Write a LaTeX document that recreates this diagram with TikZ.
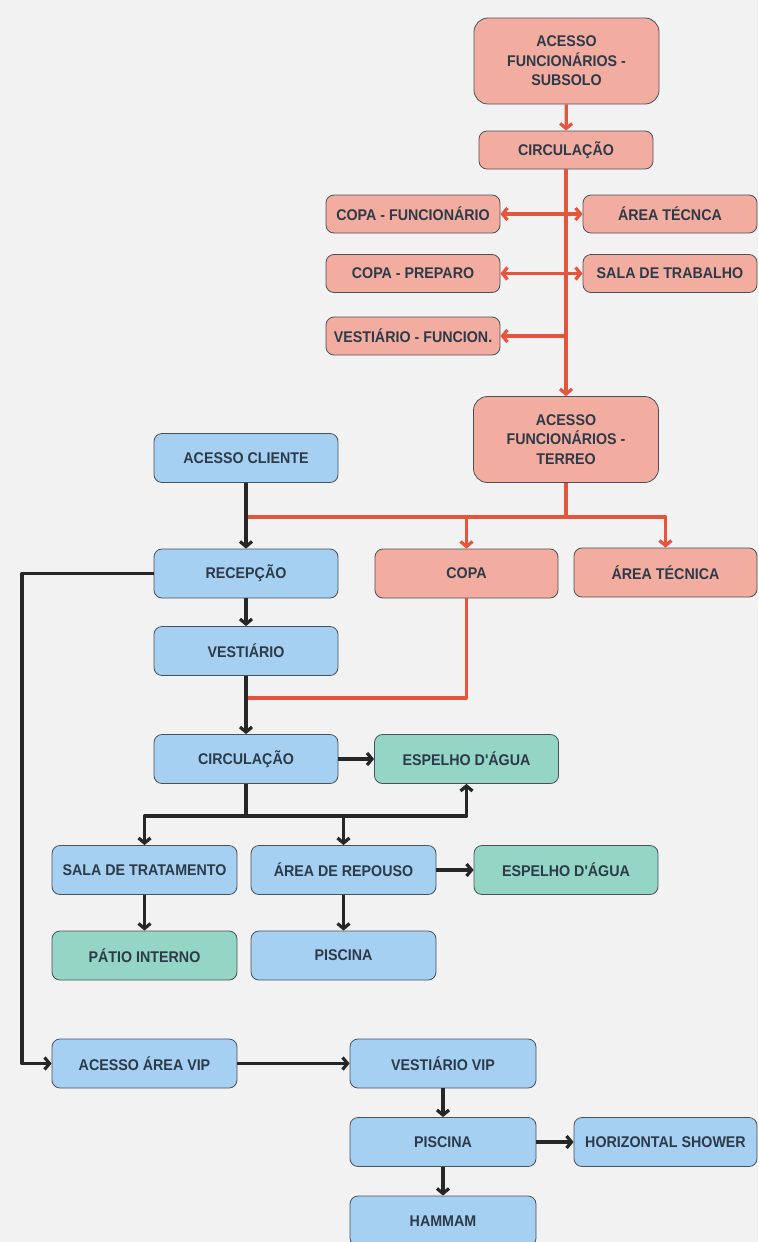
\documentclass[tikz,border=0pt]{standalone}
\usepackage{fontspec}
\setmainfont{Liberation Sans}[FakeStretch=0.92, Ligatures=TeXOff]
\usetikzlibrary{arrows.meta,calc}

\definecolor{bgcol}{HTML}{F2F2F2}
\definecolor{funcfill}{HTML}{F3ADA0}
\definecolor{clifill}{HTML}{A5D0F2}
\definecolor{aguafill}{HTML}{95D5C5}
\definecolor{boxline}{HTML}{4A5058}
\definecolor{txtcol}{HTML}{2D3A48}
\definecolor{funcline}{HTML}{E6553B}

\tikzset{
    room/.style = {draw=boxline, line width=0.8pt, rounded corners=8pt, inner sep=0pt,
                   align=center, text=txtcol, font=\fontsize{15.5}{19.5}\selectfont\bfseries},
    func/.style = {room, fill=funcfill, minimum width=174pt, minimum height=38pt},
    funcbig/.style = {room, fill=funcfill, rounded corners=14pt, minimum width=185pt, minimum height=86pt},
    cli/.style = {room, fill=clifill, minimum width=184pt, minimum height=49pt},
    agua/.style = {room, fill=aguafill, minimum width=184pt, minimum height=49pt},
    orangeflow/.style = {draw=funcline, line width=3.2pt, line join=round},
    blackflow/.style = {draw=black!85, line width=3.2pt, line join=round},
}

\begin{document}
\begin{tikzpicture}[x=1pt, y=-1pt, >={Straight Barb[length=5pt,width=12pt]}]

    \useasboundingbox[fill=bgcol] (0,0) rectangle (758,1242);

    % funcionarios - subsolo
    \node[funcbig] (subsolo) at (566.5,61) {ACESSO\\FUNCIONÁRIOS -\\SUBSOLO};
    \node[func] (circsub) at (566,150) {CIRCULAÇÃO};
    \node[func] (copafunc) at (413,214) {COPA - FUNCIONÁRIO};
    \node[func] (tecsub) at (670,214) {ÁREA TÉCNCA};
    \node[func] (copaprep) at (413,273.5) {COPA - PREPARO};
    \node[func] (trabalho) at (670,273.5) {SALA DE TRABALHO};
    \node[func] (vestfunc) at (413,336) {VESTIÁRIO - FUNCION.};

    % funcionarios - terreo
    \node[funcbig] (terreo) at (566,439.5) {ACESSO\\FUNCIONÁRIOS -\\TERREO};
    \node[func, minimum width=183pt, minimum height=49pt] (copa) at (466.5,573.5) {COPA};
    \node[func, minimum width=183pt, minimum height=49pt] (tecter) at (665.5,572.5) {ÁREA TÉCNICA};

    % clientes
    \node[cli] (acesso) at (246,458) {ACESSO CLIENTE};
    \node[cli] (recepcao) at (246,573.5) {RECEPÇÃO};
    \node[cli] (vestiario) at (246,651) {VESTIÁRIO};
    \node[cli] (circcli) at (246,759) {CIRCULAÇÃO};
    \node[agua] (espelhoa) at (466.5,759) {ESPELHO D'ÁGUA};
    \node[cli, minimum width=185pt] (tratamento) at (144.5,870) {SALA DE TRATAMENTO};
    \node[cli, minimum width=185pt] (repouso) at (343.5,870) {ÁREA DE REPOUSO};
    \node[agua] (espelhob) at (566,870) {ESPELHO D'ÁGUA};
    \node[agua, minimum width=185pt] (patio) at (144.5,955.5) {PÁTIO INTERNO};
    \node[cli, minimum width=185pt] (piscina) at (343.5,955.5) {PISCINA};

    % area vip
    \node[cli, minimum width=185pt] (acessovip) at (144.5,1063.5) {ACESSO ÁREA VIP};
    \node[cli, minimum width=186pt] (vestvip) at (443,1063.5) {VESTIÁRIO VIP};
    \node[cli, minimum width=186pt] (piscinavip) at (443,1142) {PISCINA};
    \node[cli, minimum width=183pt] (shower) at (665.5,1142) {HORIZONTAL SHOWER};
    \node[cli, minimum width=186pt, minimum height=50pt] (hammam) at (443,1221) {HAMMAM};

    % orange connectors
    \draw[orangeflow, ->] (subsolo) -- (circsub);
    \draw[orangeflow, ->] (circsub) -- (terreo);
    \draw[orangeflow, <->] (copafunc) -- (tecsub);
    \draw[orangeflow, <->] (copaprep) -- (trabalho);
    \draw[orangeflow, ->] (circsub.south |- vestfunc.east) -- (vestfunc);

    \coordinate (jter) at ($(terreo.south)+(0,34)$);
    \draw[orangeflow] (terreo) -- (jter) -- (acesso.south |- jter);
    \draw[orangeflow, ->] (jter) -| (copa.north);
    \draw[orangeflow, ->] (jter) -| (tecter.north);
    \draw[orangeflow] (copa) |- ($(vestiario.south)+(0,22)$);

    % black connectors
    \draw[blackflow, ->] (acesso) -- (recepcao);
    \draw[blackflow, ->] (recepcao) -- (vestiario);
    \draw[blackflow, ->] (vestiario) -- (circcli);
    \draw[blackflow, ->] (recepcao.west) -- (22,573.5) |- (acessovip.west);
    \draw[blackflow, ->] (circcli) -- (espelhoa);

    \coordinate (jcli) at ($(circcli.south)+(0,32)$);
    \draw[blackflow] (circcli) -- (jcli);
    \draw[blackflow, ->] (jcli) -| (tratamento.north);
    \draw[blackflow, ->] (jcli) -| (repouso.north);
    \draw[blackflow, ->] (jcli) -| (espelhoa.south);
    \draw[blackflow, ->] (repouso) -- (espelhob);
    \draw[blackflow, ->] (tratamento) -- (patio);
    \draw[blackflow, ->] (repouso) -- (piscina);

    \draw[blackflow, ->] (acessovip) -- (vestvip);
    \draw[blackflow, ->] (vestvip) -- (piscinavip);
    \draw[blackflow, ->] (piscinavip) -- (shower);
    \draw[blackflow, ->] (piscinavip) -- (hammam);

\end{tikzpicture}
\end{document}
